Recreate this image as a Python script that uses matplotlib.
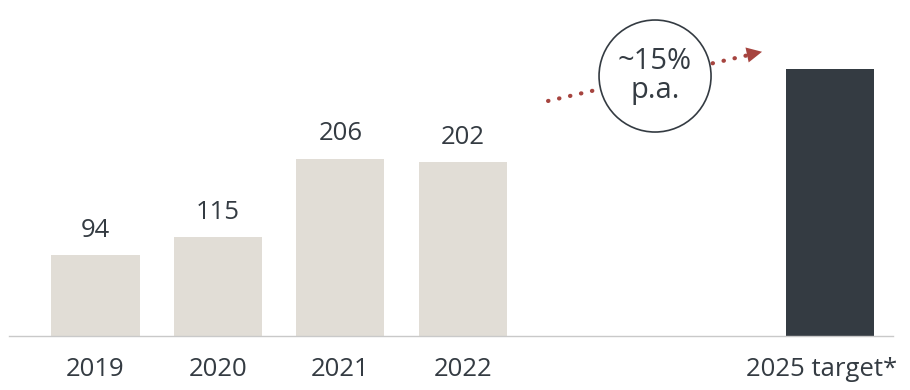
import matplotlib
matplotlib.use("Agg")
import matplotlib.pyplot as plt
import matplotlib.transforms as mtransforms
from matplotlib.patches import Ellipse

plt.rcParams['font.family'] = ['Open Sans', 'DejaVu Sans']

# data
categories = ["2019", "2020", "2021", "2022", "2025 target*"]
values = [94, 115, 206, 202, 310]
labels = ["94", "115", "206", "202", ""]
growth_text = "~15%\np.a."

positions = [0, 1, 2, 3, 6]
bar_colors = ["#e1ddd6"] * 4 + ["#343b42"]
text_color = "#343b42"
arrow_color = "#a6443f"

fig = plt.figure(figsize=(9.1, 3.9), dpi=100)
ax = fig.add_axes([9 / 910, 54 / 390, 884 / 910, 336 / 390])

bars = ax.bar(positions, values, width=0.72, color=bar_colors, zorder=2)
for b, lab in zip(bars, labels):
    if lab:
        ax.annotate(lab, (b.get_x() + b.get_width() / 2, b.get_height()),
                    xytext=(0, 9), textcoords="offset points",
                    ha="center", va="bottom", fontsize=18.5, color=text_color)

ax.set_xlim(-0.707, 6.515)
ax.set_ylim(0, 390.7)
ax.set_xticks(positions)
ax.set_xticklabels(categories, fontsize=18.5, color=text_color)
ax.tick_params(axis="x", length=0, pad=15)
ax.set_yticks([])
for s in ["top", "right", "left"]:
    ax.spines[s].set_visible(False)
ax.spines["bottom"].set_color("#c9c9c9")
ax.spines["bottom"].set_linewidth(1)

# last label is pulled left so it stays inside the figure
last = ax.get_xticklabels()[-1]
last.set_transform(last.get_transform() +
                   mtransforms.ScaledTranslation(-0.08, 0, fig.dpi_scale_trans))

# dotted growth arrow
x0, y0 = 3.697, 273.3
x1, y1 = 5.36, 327.5
ax.plot([x0, x1], [y0, y1], color=arrow_color, lw=3,
        linestyle=(0, (0.1, 2.6)), dash_capstyle="round", zorder=3)
ax.annotate("", xy=(5.445, 330.5), xytext=(5.28, 325.5),
            arrowprops=dict(arrowstyle="-|>,head_length=1.1,head_width=0.55",
                            color=arrow_color, lw=0, shrinkA=0, shrinkB=0),
            zorder=3)

# circle with growth rate
circ = Ellipse((4.571, 302.3), 112 / 122.4, 112 / 0.86, facecolor="white",
               edgecolor=text_color, lw=1.2, zorder=4)
ax.add_patch(circ)
ax.text(4.571, 302.3, growth_text, ha="center", va="center", fontsize=21,
        color=text_color, linespacing=1.0, zorder=5)

fig.savefig("out.png", dpi=100)
